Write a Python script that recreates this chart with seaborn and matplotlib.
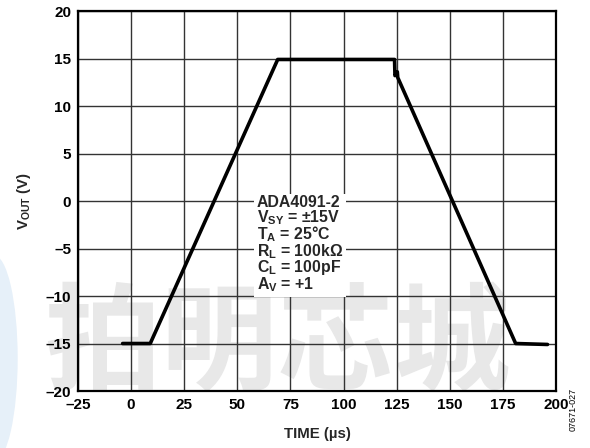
import matplotlib
matplotlib.use("Agg")
import matplotlib.pyplot as plt
from matplotlib.patches import Ellipse
import seaborn as sns
import pandas as pd

# Output voltage step response, ADA4091-2
time_us = [-4, 9, 69, 124, 124.2, 125.3, 125.5, 181, 196]
vout_v = [-15, -15, 14.9, 14.9, 13.2, 13.6, 13.0, -15, -15.1]

x_ticks = [-25, 0, 25, 50, 75, 100, 125, 150, 175, 200]
y_ticks = [-20, -15, -10, -5, 0, 5, 10, 15, 20]
conditions = ["ADA4091-2",
              r"V$_{\mathbf{SY}}$ = ±15V",
              r"T$_{\mathbf{A}}$ = 25°C",
              r"R$_{\mathbf{L}}$ = 100kΩ",
              r"C$_{\mathbf{L}}$ = 100pF",
              r"A$_{\mathbf{V}}$ = +1"]

sns.set_theme(style="white")
plt.rcParams["font.family"] = ["Liberation Sans", "DejaVu Sans"]
plt.rcParams["mathtext.fontset"] = "custom"
plt.rcParams["mathtext.rm"] = "Liberation Sans:bold"
plt.rcParams["mathtext.bf"] = "Liberation Sans:bold"
plt.rcParams["mathtext.it"] = "Liberation Sans:bold"

fig = plt.figure(figsize=(5.9, 4.48), dpi=100)
fig.patch.set_facecolor("white")

# background watermark
fig.patches.append(Ellipse((-0.01, 0.2), 0.08, 0.46, transform=fig.transFigure,
                           facecolor="#e6f0f9", edgecolor="none", zorder=0))
fig.text(0.47, 0.226, "拍明芯城", fontsize=84, fontweight="bold",
         family=["Noto Sans CJK SC", "DejaVu Sans"], color="#e8e8e8",
         ha="center", va="center", zorder=0.5)

ax = fig.add_axes([0.1322, 0.1272, 0.8102, 0.8482])
ax.set_facecolor("none")
ax.set_zorder(1)

df = pd.DataFrame({"time": time_us, "vout": vout_v})
sns.lineplot(data=df, x="time", y="vout", sort=False, color="black",
             linewidth=2.6, ax=ax, zorder=3)

ax.set_xlim(-25, 200)
ax.set_ylim(-20, 20)
ax.set_xticks(x_ticks)
ax.set_yticks(y_ticks)
ax.set_xticklabels([str(t).replace("-", "\u2013") for t in x_ticks],
                   fontsize=11, fontweight="bold")
ax.set_yticklabels([str(t).replace("-", "\u2013") for t in y_ticks],
                   fontsize=11, fontweight="bold")
ax.tick_params(axis="both", length=0, pad=5, colors="black")
ax.grid(True, color="#333333", linewidth=1.0)
for s in ax.spines.values():
    s.set_color("black")
    s.set_linewidth(1.6)
    s.set_zorder(4)

ax.set_xlabel("TIME (µs)", fontsize=10.8, fontweight="bold", labelpad=11)
ax.set_ylabel(r"V$_{\mathbf{OUT}}$ (V)", fontsize=10.8, fontweight="bold", labelpad=9)

ax.text(59.3, 0.6, "\n".join(conditions), fontsize=11.4, fontweight="bold",
        ha="left", va="top", linespacing=0.84, zorder=5,
        bbox=dict(facecolor="white", edgecolor="none", pad=2))

fig.text(0.972, 0.085, "07671-027", rotation=90, fontsize=6.5,
         ha="center", va="center", color="black")

fig.savefig("out.png", dpi=100)
